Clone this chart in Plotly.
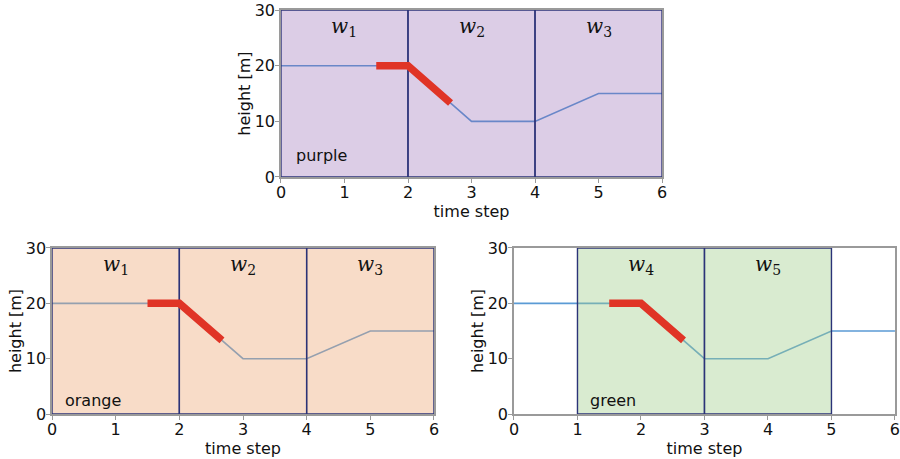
import plotly.graph_objects as go

# data
time_steps = [0, 1, 2, 3, 4, 5, 6]
heights = [20, 20, 20, 10, 10, 15, 15]
red_x = [1.5, 2, 2.67]
red_y = [20, 20, 13.3]

panel_names = ["purple", "orange", "green"]
panel_windows = [[0, 2, 4, 6], [0, 2, 4, 6], [1, 3, 5]]
panel_window_labels = [["1", "2", "3"], ["1", "2", "3"], ["4", "5"]]
panel_fills = ["rgba(138,88,172,0.30)", "rgba(237,167,117,0.40)", "rgba(159,205,137,0.40)"]

x_ticks = [0, 1, 2, 3, 4, 5, 6]
y_ticks = [0, 10, 20, 30]

# layout geometry
x_domains = [[0.3122, 0.7356], [0.0578, 0.4822], [0.5711, 0.9944]]
y_domains = [[0.6144, 0.978], [0.098, 0.4597], [0.098, 0.4597]]
name_pos = [(0.2, 3.8), (0.17, 2.5), (1.17, 2.5)]

line_blue = "#5b9bd5"
navy = "#2b3378"
spine = "#9a9a9a"
font = "DejaVu Sans"

fig = go.Figure()
annotations = []

for i in range(3):
    xa = "x" if i == 0 else f"x{i+1}"
    ya = "y" if i == 0 else f"y{i+1}"
    fig.add_trace(go.Scatter(x=time_steps, y=heights, mode="lines",
                             line=dict(color=line_blue, width=1.6),
                             xaxis=xa, yaxis=ya, showlegend=False, hoverinfo="skip"))
    w = panel_windows[i]
    for k in range(len(w) - 1):
        x0, x1 = w[k], w[k + 1]
        fig.add_trace(go.Scatter(x=[x0, x1, x1, x0, x0], y=[0, 0, 30, 30, 0],
                                 mode="lines", fill="toself", fillcolor=panel_fills[i],
                                 line=dict(color=navy, width=1.4),
                                 xaxis=xa, yaxis=ya, showlegend=False, hoverinfo="skip"))
        annotations.append(dict(x=(x0 + x1) / 2, y=27, xref=xa, yref=ya,
                                text="<i>w</i><sub>" + panel_window_labels[i][k] + "</sub>",
                                showarrow=False,
                                font=dict(family="DejaVu Serif", size=20, color="#111")))
    fig.add_trace(go.Scatter(x=red_x, y=red_y, mode="lines",
                             line=dict(color="#e03426", width=7.5),
                             xaxis=xa, yaxis=ya, showlegend=False, hoverinfo="skip"))
    annotations.append(dict(x=name_pos[i][0], y=name_pos[i][1], xref=xa, yref=ya,
                            text=panel_names[i], showarrow=False, xanchor="left",
                            font=dict(family=font, size=16, color="#111")))

axis_common = dict(range=[0, 6], tickvals=x_ticks, ticks="outside", ticklen=4,
                   tickcolor=spine, showline=True, linecolor=spine, linewidth=1.5,
                   mirror=True, showgrid=False, zeroline=False, automargin=False,
                   ticklabeloverflow="allow", ticklabelstandoff=-4,
                   tickfont=dict(family=font, size=16, color="#111"),
                   title=dict(text="time step", font=dict(family=font, size=16, color="#111"),
                              standoff=0))
yaxis_common = dict(range=[0, 30], tickvals=y_ticks, ticks="outside", ticklen=4,
                    tickcolor=spine, showline=True, linecolor=spine, linewidth=1.5,
                    mirror=True, showgrid=False, zeroline=False, automargin=False,
                    ticklabeloverflow="allow", ticklabelstandoff=-3,
                    tickfont=dict(family=font, size=16, color="#111"),
                    title=dict(text="height [m]", font=dict(family=font, size=16, color="#111"),
                               standoff=0))

layout = dict(width=900, height=459, margin=dict(l=0, r=0, t=0, b=0),
              plot_bgcolor="white", paper_bgcolor="white",
              annotations=annotations)
for i in range(3):
    xk = "xaxis" if i == 0 else f"xaxis{i+1}"
    yk = "yaxis" if i == 0 else f"yaxis{i+1}"
    ya = "y" if i == 0 else f"y{i+1}"
    xa = "x" if i == 0 else f"x{i+1}"
    layout[xk] = dict(axis_common, domain=x_domains[i], anchor=ya)
    layout[yk] = dict(yaxis_common, domain=y_domains[i], anchor=xa)

fig.update_layout(**layout)
fig.write_html("out.html", config={"displayModeBar": False},
               post_script="document.body.style.margin='0';")
